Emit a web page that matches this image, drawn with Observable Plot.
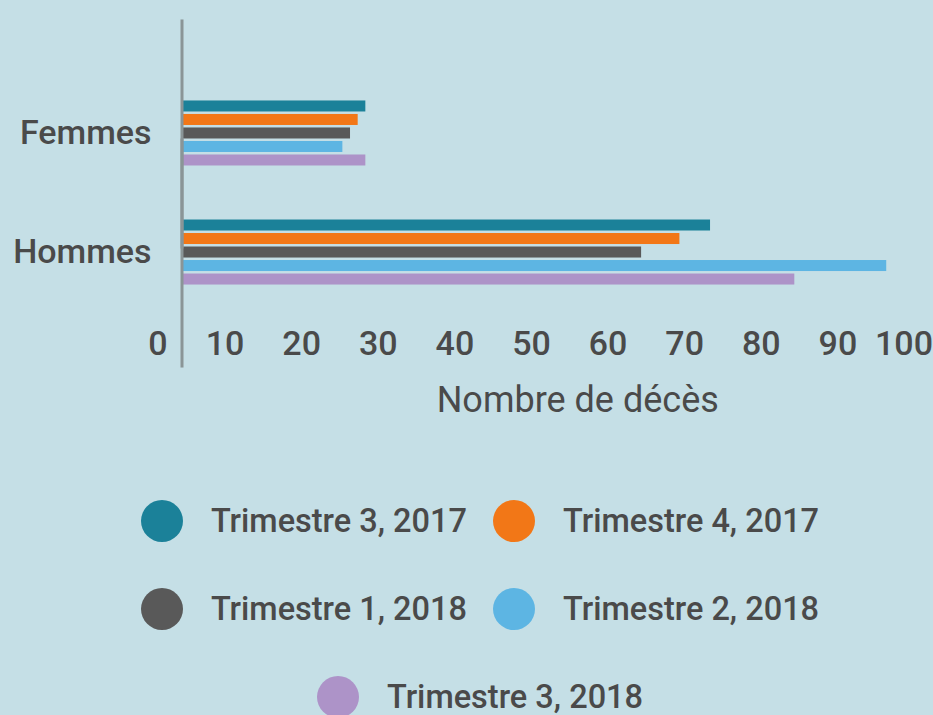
<!DOCTYPE html>
<html>
<head>
<meta charset="utf-8">
<script src="https://cdn.jsdelivr.net/npm/d3@7"></script>
<script src="https://cdn.jsdelivr.net/npm/@observablehq/plot@0.6"></script>
<style>
  html, body { margin: 0; padding: 0; background: #c5dfe6; overflow: hidden; }
  body { width: 933px; height: 715px; font-family: Roboto, "Noto Sans", sans-serif; }
  #chart svg { display: block; }
  #legend { position: absolute; left: 120px; top: 477px; width: 720px;
            display: flex; flex-wrap: wrap; justify-content: center; column-gap: 26px; }
  .item { display: flex; align-items: center; height: 88px; }
  .dot { width: 42px; height: 42px; border-radius: 50%; margin-right: 28px; }
  .lab { font-size: 32.5px; font-weight: 500; color: #4a4a4a; white-space: nowrap; }
</style>
</head>
<body>
<div id="chart"></div>
<div id="legend"></div>
<script>
const categories = ["Femmes", "Hommes"];
const series = ["Trimestre 3, 2017", "Trimestre 4, 2017", "Trimestre 1, 2018", "Trimestre 2, 2018", "Trimestre 3, 2018"];
const femmes = [24, 23, 22, 21, 24];
const hommes = [69, 65, 60, 92, 80];
const colors = ["#1b8199", "#f27717", "#595959", "#5db5e3", "#ad93c8"];
const xTicks = [0, 10, 20, 30, 40, 50, 60, 70, 80, 90, 100];
const xLabel = "Nombre de décès";

const values = [femmes, hommes];
const data = categories.flatMap((c, i) => series.map((s, j) => ({sex: c, serie: s, value: values[i][j]})));

const tickStyle = {tickSize: 0, tickPadding: 46, fontSize: 34, fontWeight: 500, fill: "#4a4a4a", label: null};

const chart = Plot.plot({
  width: 933,
  height: 430,
  marginTop: 20,
  marginBottom: 65,
  marginLeft: 181.5,
  marginRight: 0,
  style: {background: "transparent", fontFamily: "Roboto, sans-serif", color: "#4a4a4a"},
  x: {domain: [0, 100], range: [181.5, 947.5]},
  y: {domain: series, paddingInner: 0.185, paddingOuter: 0, round: false, axis: null},
  fy: {domain: categories, paddingInner: 0.4538, paddingOuter: 0.676, round: false, axis: null, label: null},
  color: {domain: series, range: colors},
  marks: [
    Plot.barX(data, {x: "value", y: "serie", fy: "sex", fill: "serie"}),
    Plot.frame({anchor: "left", stroke: "#8a9597", strokeWidth: 3, insetTop: -80, insetBottom: -81}),
    Plot.axisX({...tickStyle, ticks: xTicks.slice(1, -1), dx: -33.5}),
    Plot.axisX({...tickStyle, ticks: xTicks.slice(0, 1), dx: -24}),
    Plot.axisX({...tickStyle, ticks: xTicks.slice(-1), dx: -44}),
    Plot.axisFy({anchor: "left", tickSize: 0, tickPadding: 30.5, fontSize: 34, fontWeight: 500, fill: "#4a4a4a", label: null}),
    Plot.text([xLabel], {frameAnchor: "bottom", facet: "super", dx: 20, dy: 127, fontSize: 36, fill: "#4a4a4a", lineAnchor: "bottom"})
  ]
});
document.getElementById("chart").appendChild(chart);

const legend = document.getElementById("legend");
series.forEach((s, i) => {
  const item = document.createElement("div");
  item.className = "item";
  const dot = document.createElement("div");
  dot.className = "dot";
  dot.style.background = colors[i];
  const lab = document.createElement("span");
  lab.className = "lab";
  lab.textContent = s;
  item.appendChild(dot);
  item.appendChild(lab);
  legend.appendChild(item);
});
</script>
</body>
</html>
